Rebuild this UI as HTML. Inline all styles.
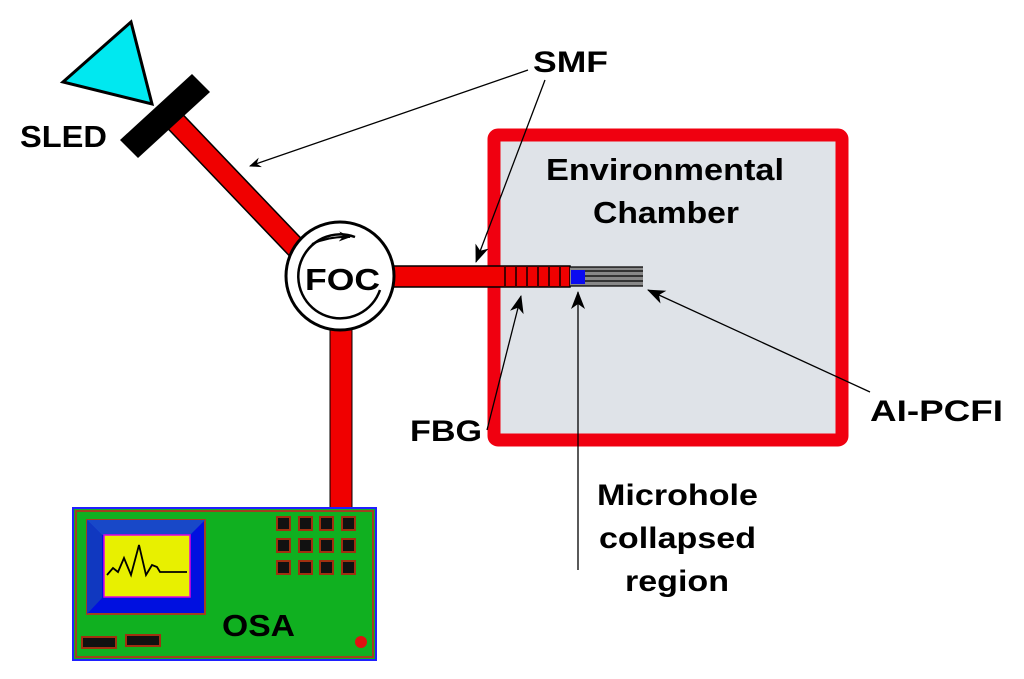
<!DOCTYPE html>
<html><head><style>
html,body{margin:0;padding:0;background:#fff;}
svg{display:block;}
text{font-family:"Liberation Sans",Arial,sans-serif;font-weight:bold;fill:#000;}
</style></head><body>
<svg width="1024" height="679" viewBox="0 0 1024 679" xmlns="http://www.w3.org/2000/svg">
<defs>
<marker id="ah" markerWidth="12" markerHeight="10" refX="11" refY="5" orient="auto" markerUnits="userSpaceOnUse">
<path d="M0,0 L12,5 L0,10 L4,5 Z" fill="#000"/>
</marker>
<marker id="ah2" markerWidth="18" markerHeight="14" refX="17" refY="7" orient="auto" markerUnits="userSpaceOnUse">
<path d="M0,0 L18,7 L0,14 L5,7 Z" fill="#000"/>
</marker>
</defs>
<rect x="494" y="135" width="348" height="305" rx="4" fill="#dfe3e8" stroke="#f00010" stroke-width="13"/>
<text x="546" y="180" font-size="31" textLength="238" lengthAdjust="spacingAndGlyphs">Environmental</text>
<text x="593" y="223" font-size="31" textLength="146" lengthAdjust="spacingAndGlyphs">Chamber</text>
<line x1="172" y1="118" x2="298" y2="250" stroke="#000" stroke-width="22"/>
<line x1="172" y1="118" x2="298" y2="250" stroke="#f00000" stroke-width="19"/>
<rect x="330" y="320" width="22" height="190" fill="#f00000" stroke="#000" stroke-width="1"/>
<rect x="388" y="266" width="182" height="21" fill="#f00000" stroke="#000" stroke-width="1.5"/>
<g stroke="#400" stroke-width="2">
<line x1="505" y1="266" x2="505" y2="287"/><line x1="516" y1="266" x2="516" y2="287"/>
<line x1="527" y1="266" x2="527" y2="287"/><line x1="538" y1="266" x2="538" y2="287"/>
<line x1="549" y1="266" x2="549" y2="287"/><line x1="560" y1="266" x2="560" y2="287"/>
</g>
<rect x="570" y="267" width="73" height="19" fill="#888"/>
<g stroke="#000" stroke-width="1.2">
<line x1="570" y1="267" x2="643" y2="267"/><line x1="585" y1="271" x2="643" y2="271"/>
<line x1="585" y1="276" x2="643" y2="276"/><line x1="585" y1="281" x2="643" y2="281"/>
<line x1="570" y1="286" x2="643" y2="286"/>
</g>
<rect x="571" y="270" width="14" height="14" fill="#0a0af0"/>
<polygon points="63,82 131,22 152,104" fill="#00e8f0" stroke="#000" stroke-width="3"/>
<polygon points="120,140 192,74 210,92 138,158" fill="#000"/>
<text x="20" y="147" font-size="31" textLength="87" lengthAdjust="spacingAndGlyphs">SLED</text>
<circle cx="340" cy="276" r="54" fill="#fff" stroke="#000" stroke-width="3"/>
<path d="M 380 290 A 42 42 0 1 1 355 237" fill="none" stroke="#000" stroke-width="2.5"/>
<path d="M 312 244 Q 330 236 350 237" fill="none" stroke="#000" stroke-width="2" marker-end="url(#ah)"/>
<text x="305" y="290" font-size="31" textLength="75" lengthAdjust="spacingAndGlyphs">FOC</text>
<rect x="73" y="508" width="303" height="152" fill="#10b020" stroke="#2020ff" stroke-width="2"/>
<rect x="76" y="511" width="297" height="146" fill="none" stroke="#a04020" stroke-width="2"/>
<rect x="87" y="520" width="118" height="94" fill="#0010e0" stroke="#a04020" stroke-width="2"/>
<polygon points="87,520 205,520 190,535 102,535" fill="#1848c8"/>
<polygon points="87,520 102,535 102,598 87,614" fill="#1038c0"/>
<rect x="104" y="535" width="86" height="62" fill="#e8f000" stroke="#e000e0" stroke-width="1.5"/>
<polyline points="107,575 113,568 118,572 124,558 131,575 139,545 146,575 152,565 157,567 160,572 187,572" fill="none" stroke="#000" stroke-width="1.8"/>
<g fill="#111" stroke="#a03010" stroke-width="2">
<rect x="277" y="517" width="13" height="13"/><rect x="299" y="517" width="13" height="13"/><rect x="320" y="517" width="13" height="13"/><rect x="342" y="517" width="13" height="13"/>
<rect x="277" y="539" width="13" height="13"/><rect x="299" y="539" width="13" height="13"/><rect x="320" y="539" width="13" height="13"/><rect x="342" y="539" width="13" height="13"/>
<rect x="277" y="561" width="13" height="13"/><rect x="299" y="561" width="13" height="13"/><rect x="320" y="561" width="13" height="13"/><rect x="342" y="561" width="13" height="13"/>
<rect x="82" y="637" width="34" height="11"/><rect x="126" y="635" width="34" height="11"/>
</g>
<circle cx="361" cy="642" r="6" fill="#e01010"/>
<text x="222" y="636" font-size="31" textLength="73" lengthAdjust="spacingAndGlyphs">OSA</text>
<text x="533" y="72" font-size="30" textLength="75" lengthAdjust="spacingAndGlyphs">SMF</text>
<text x="410" y="441" font-size="30" textLength="72" lengthAdjust="spacingAndGlyphs">FBG</text>
<text x="870" y="421" font-size="30" textLength="133" lengthAdjust="spacingAndGlyphs">AI-PCFI</text>
<text x="597" y="505" font-size="30" textLength="161" lengthAdjust="spacingAndGlyphs">Microhole</text>
<text x="599" y="548" font-size="30" textLength="157" lengthAdjust="spacingAndGlyphs">collapsed</text>
<text x="625" y="591" font-size="30" textLength="104" lengthAdjust="spacingAndGlyphs">region</text>
<line x1="528" y1="70" x2="250" y2="166" stroke="#000" stroke-width="1.3" marker-end="url(#ah)"/>
<line x1="545" y1="80" x2="476" y2="262" stroke="#000" stroke-width="1.3" marker-end="url(#ah2)"/>
<line x1="487" y1="430" x2="521" y2="296" stroke="#000" stroke-width="1.3" marker-end="url(#ah2)"/>
<line x1="578" y1="570" x2="578" y2="292" stroke="#000" stroke-width="1.3" marker-end="url(#ah2)"/>
<line x1="870" y1="392" x2="648" y2="290" stroke="#000" stroke-width="1.3" marker-end="url(#ah2)"/>
</svg>
</body></html>
